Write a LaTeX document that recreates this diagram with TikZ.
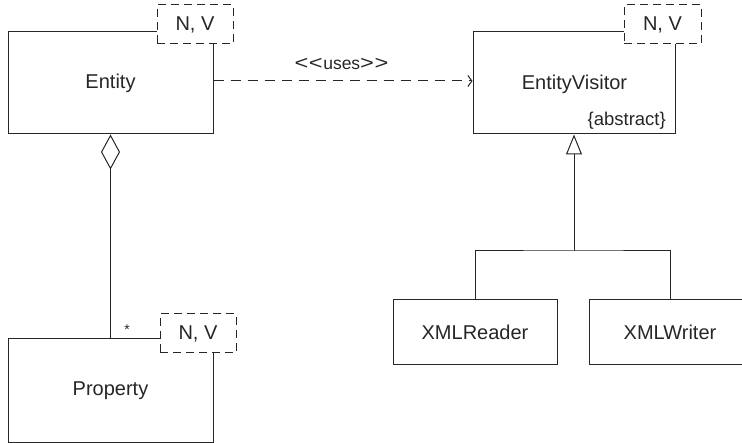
\documentclass[tikz,border=0pt]{standalone}
\usepackage{fontspec}
\setmainfont{Liberation Sans}
\usetikzlibrary{arrows.meta}
\newcommand\wideLT{\scalebox{1.35}[1.1]{<}}
\newcommand\wideGT{\scalebox{1.35}[1.1]{>}}
\begin{document}
\begin{tikzpicture}[x=1pt,y=-1pt,
  ln/.style={line width=1pt, draw=black!85},
  clsbox/.style={ln, rectangle, inner sep=0pt, font=\fontsize{20}{24}\selectfont, text=black!85},
  tmpl/.style={ln, dash pattern=on 8pt off 5pt, fill=white, rectangle, inner sep=0pt,
    minimum height=39pt, font=\fontsize{20}{24}\selectfont, text=black!85},
  small/.style={inner sep=0pt, font=\fontsize{18}{21}\selectfont, text=black!85}
]
\useasboundingbox (0,0) rectangle (742,443);
\clip (0,0) rectangle (742,443);
% classes
\node[clsbox, minimum width=205pt, minimum height=102pt] (entity) at (110.5,83) {Entity};
\node[clsbox, minimum width=202pt, minimum height=102pt] (ev) at (574,83) {};
\node[small, font=\fontsize{20}{24}\selectfont] (evname) at (574.5,84) {EntityVisitor};
\node[small, anchor=base east, font=\fontsize{18.5}{21}\selectfont] (abs) at (666,126) {\{abstract\}};
\node[clsbox, minimum width=164pt, minimum height=65pt] (reader) at (475,332.5) {XMLReader};
\node[clsbox, minimum width=162pt, minimum height=65pt] (writer) at (670,332.5) {XMLWriter};
\node[clsbox, minimum width=205pt, minimum height=104pt] (property) at (110.5,391) {Property};
% connectors
\draw[ln, dash pattern=on 10pt off 7pt, -{Straight Barb[length=4pt,width=11pt,line width=1pt]}]
  ([yshift=2pt]entity.east) -- ([yshift=2pt]entity.east -| ev.west);
\node[small, font=\fontsize{17.5}{21}\selectfont] (uses) at (341.5,64)
  {\wideLT\kern0.5pt\wideLT\kern0.5pt uses\wideGT\kern0.5pt\wideGT};
\draw[ln, -{Diamond[open,length=35pt,width=19pt,line width=1pt]}] (property.north) -- (entity.south);
\node[inner sep=0pt, font=\fontsize{14}{16}\selectfont, text=black!85] (star) at (127,330) {*};
\coordinate (j) at (574,251);
\draw[ln, -{Triangle[open,length=20pt,width=16pt,line width=1pt]}] (j) -- (ev.south);
\draw[ln] (reader.north) |- (j) -| (writer.north);
% template boxes
\node[tmpl, minimum width=76pt] (t1) at (195,24.5) {N, V};
\node[tmpl, minimum width=77pt] (t2) at (662.5,24.5) {N, V};
\node[tmpl, minimum width=76pt] (t3) at (198,333.5) {N, V};
\end{tikzpicture}
\end{document}
